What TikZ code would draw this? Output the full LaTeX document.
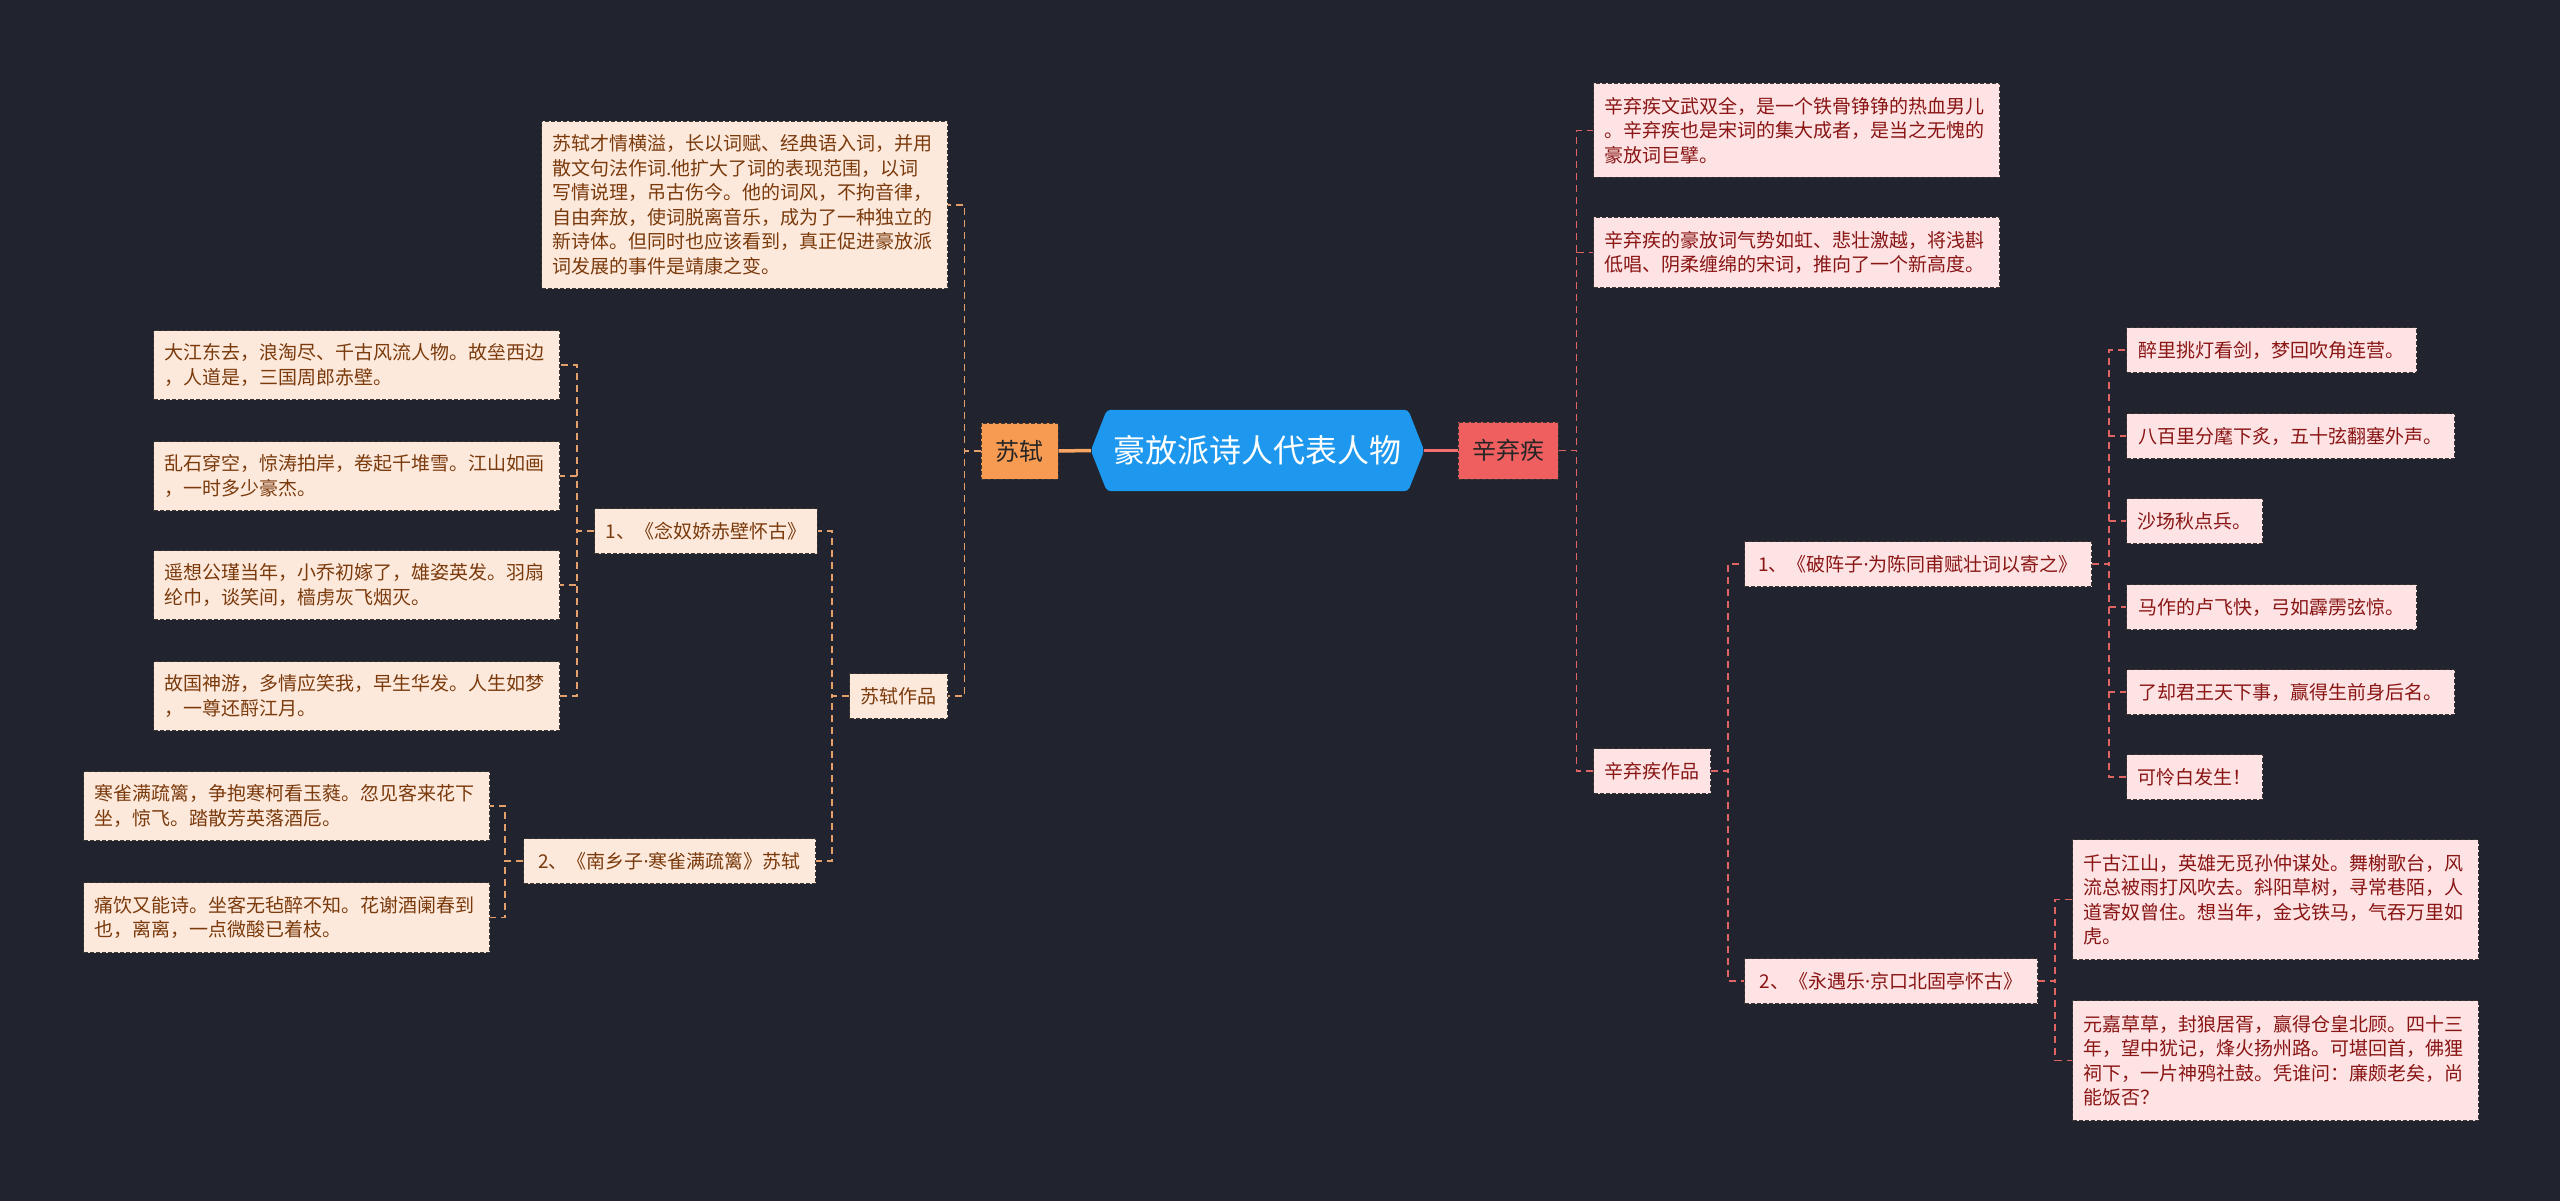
\documentclass[tikz,border=0pt]{standalone}
\usepackage{fontspec}
\setmainfont{Noto Sans CJK SC}
\newfontfamily\latinfont{Noto Sans}
\newcommand{\mdot}{{\latinfont\char"00B7}}
\usetikzlibrary{backgrounds}
\definecolor{bgc}{HTML}{21242F}
\definecolor{rootc}{HTML}{1E98EE}
\definecolor{sushic}{HTML}{F79A52}
\definecolor{xqjc}{HTML}{F05F5F}
\definecolor{leafLfill}{HTML}{FDE9DC}
\definecolor{leafRfill}{HTML}{FDE3E3}
\definecolor{leafLtext}{HTML}{7A3A0C}
\definecolor{leafRtext}{HTML}{8A1515}
\definecolor{connLc}{HTML}{E4A06A}
\definecolor{connRc}{HTML}{E06464}
\definecolor{boxborder}{HTML}{3A3633}
\begin{document}
\begin{tikzpicture}[x=1pt,y=-1pt,
  basebox/.style={font=\fontsize{19}{24.5}\selectfont, inner xsep=11pt, inner ysep=0pt,
    draw=boxborder, dash pattern=on 4pt off 2pt, line width=1pt, anchor=north west},
  leafL/.style={basebox, fill=leafLfill, text=leafLtext},
  leafR/.style={basebox, fill=leafRfill, text=leafRtext},
  multi/.style={text width=384pt, align=left},
  connL/.style={draw=connLc, line width=1.5pt, dash pattern=on 7pt off 5pt},
  connR/.style={draw=connRc, line width=1.5pt, dash pattern=on 7pt off 5pt},
  mainL/.style={draw=sushic!90!white, line width=3.5pt},
  mainR/.style={draw=xqjc!90!white, line width=3.5pt},
  topic/.style={font=\fontsize{24}{28}\selectfont, inner sep=0pt, draw=boxborder,
    dash pattern=on 4pt off 2pt, line width=1pt, text=black!85},
  rootstyle/.style={font=\fontsize{32}{38}\selectfont, text=white, inner sep=0pt,
    minimum width=333pt, minimum height=81pt}
]
\useasboundingbox (0,0) rectangle (2560,1201);
\begin{scope}[on background layer]
  \fill[bgc] (0,0) rectangle (2560,1201);
\end{scope}

% root
\node[rootstyle] (root) at (1257.5,450.5) {豪放派诗人代表人物};
\begin{scope}[on background layer]
  \fill[rootc, rounded corners=4pt] (root.west) -- ([xshift=16pt]root.north west) -- ([xshift=-16pt]root.north east)
    -- (root.east) -- ([xshift=-16pt]root.south east) -- ([xshift=16pt]root.south west) -- cycle;
\end{scope}

% main topics
\node[topic, fill=sushic, minimum width=77pt, minimum height=56pt] (sushi) at (1019.5,451) {苏轼};
\node[topic, fill=xqjc, minimum width=100pt, minimum height=57pt] (xqj) at (1508,450.5) {辛弃疾};

% left side
\node[leafL, multi, minimum height=167pt] (desc) at (541,121) {苏轼才情横溢，长以词赋、经典语入词，并用\\散文句法作词.他扩大了词的表现范围，以词\\写情说理，吊古伤今。他的词风，不拘音律，\\自由奔放，使词脱离音乐，成为了一种独立的\\新诗体。但同时也应该看到，真正促进豪放派\\词发展的事件是靖康之变。};
\node[leafL, minimum width=98pt, minimum height=45pt] (szzp) at (849,673) {苏轼作品};
\node[leafL, minimum width=221pt, minimum height=45pt] (nnj) at (594,508) {1、《念奴娇赤壁怀古》};
\node[leafL, minimum width=292pt, minimum height=45pt] (nxz) at (523,838) {2、《南乡子\mdot 寒雀满疏篱》苏轼};
\node[leafL, multi, minimum height=69pt] (b1) at (153,330) {大江东去，浪淘尽、千古风流人物。故垒西边\\，人道是，三国周郎赤壁。};
\node[leafL, multi, minimum height=69pt] (b2) at (153,441) {乱石穿空，惊涛拍岸，卷起千堆雪。江山如画\\，一时多少豪杰。};
\node[leafL, multi, minimum height=69pt] (b3) at (153,550) {遥想公瑾当年，小乔初嫁了，雄姿英发。羽扇\\纶巾，谈笑间，樯虏灰飞烟灭。};
\node[leafL, multi, minimum height=69pt] (b4) at (153,661) {故国神游，多情应笑我，早生华发。人生如梦\\，一尊还酹江月。};
\node[leafL, multi, minimum height=69pt] (c1) at (83,771) {寒雀满疏篱，争抱寒柯看玉蕤。忽见客来花下\\坐，惊飞。踏散芳英落酒卮。};
\node[leafL, multi, minimum height=70pt] (c2) at (83,882) {痛饮又能诗。坐客无毡醉不知。花谢酒阑春到\\也，离离，一点微酸已着枝。};

% right side
\node[leafR, multi, minimum height=94pt] (d1) at (1593,83) {辛弃疾文武双全，是一个铁骨铮铮的热血男儿\\。辛弃疾也是宋词的集大成者，是当之无愧的\\豪放词巨擘。};
\node[leafR, multi, minimum height=70pt] (d2) at (1593,217) {辛弃疾的豪放词气势如虹、悲壮激越，将浅斟\\低唱、阴柔缠绵的宋词，推向了一个新高度。};
\node[leafR, minimum width=117pt, minimum height=45pt] (xzp) at (1593,748) {辛弃疾作品};
\node[leafR, minimum width=347pt, minimum height=45pt] (pzz) at (1744,541) {1、《破阵子\mdot 为陈同甫赋壮词以寄之》};
\node[leafR, minimum width=293pt, minimum height=45pt] (yyl) at (1744,958) {2、《永遇乐\mdot 京口北固亭怀古》};
\node[leafR, minimum width=290pt, minimum height=45pt] (e1) at (2126,327) {醉里挑灯看剑，梦回吹角连营。};
\node[leafR, minimum width=328pt, minimum height=45pt] (e2) at (2126,413) {八百里分麾下炙，五十弦翻塞外声。};
\node[leafR, minimum width=136pt, minimum height=45pt] (e3) at (2126,498) {沙场秋点兵。};
\node[leafR, minimum width=290pt, minimum height=45pt] (e4) at (2126,584) {马作的卢飞快，弓如霹雳弦惊。};
\node[leafR, minimum width=328pt, minimum height=45pt] (e5) at (2126,669) {了却君王天下事，赢得生前身后名。};
\node[leafR, minimum width=136pt, minimum height=45pt] (e6) at (2126,754) {可怜白发生！};
\node[leafR, multi, minimum height=120pt] (f1) at (2072,839) {千古江山，英雄无觅孙仲谋处。舞榭歌台，风\\流总被雨打风吹去。斜阳草树，寻常巷陌，人\\道寄奴曾住。想当年，金戈铁马，气吞万里如\\虎。};
\node[leafR, multi, minimum height=120pt] (f2) at (2072,1000) {元嘉草草，封狼居胥，赢得仓皇北顾。四十三\\年，望中犹记，烽火扬州路。可堪回首，佛狸\\祠下，一片神鸦社鼓。凭谁问：廉颇老矣，尚\\能饭否？};

% main connectors
\draw[mainL] (root.west) -- (sushi.east);
\draw[mainR] (root.east) -- (xqj.west);

% left connectors
\foreach \c in {desc,szzp} \draw[connL] (sushi.west) -- ++(-16,0) |- (\c.east);
\foreach \c in {nnj,nxz} \draw[connL] (szzp.west) -- ++(-17,0) |- (\c.east);
\foreach \c in {b1,b2,b3,b4} \draw[connL] (nnj.west) -- ++(-17,0) |- (\c.east);
\foreach \c in {c1,c2} \draw[connL] (nxz.west) -- ++(-18,0) |- (\c.east);

% right connectors
\foreach \c in {d1,d2,xzp} \draw[connR] (xqj.east) -- ++(18,0) |- (\c.west);
\foreach \c in {pzz,yyl} \draw[connR] (xzp.east) -- ++(17,0) |- (\c.west);
\foreach \c in {e1,e2,e3,e4,e5,e6} \draw[connR] (pzz.east) -- ++(17,0) |- (\c.west);
\foreach \c in {f1,f2} \draw[connR] (yyl.east) -- ++(17,0) |- (\c.west);
\end{tikzpicture}
\end{document}
